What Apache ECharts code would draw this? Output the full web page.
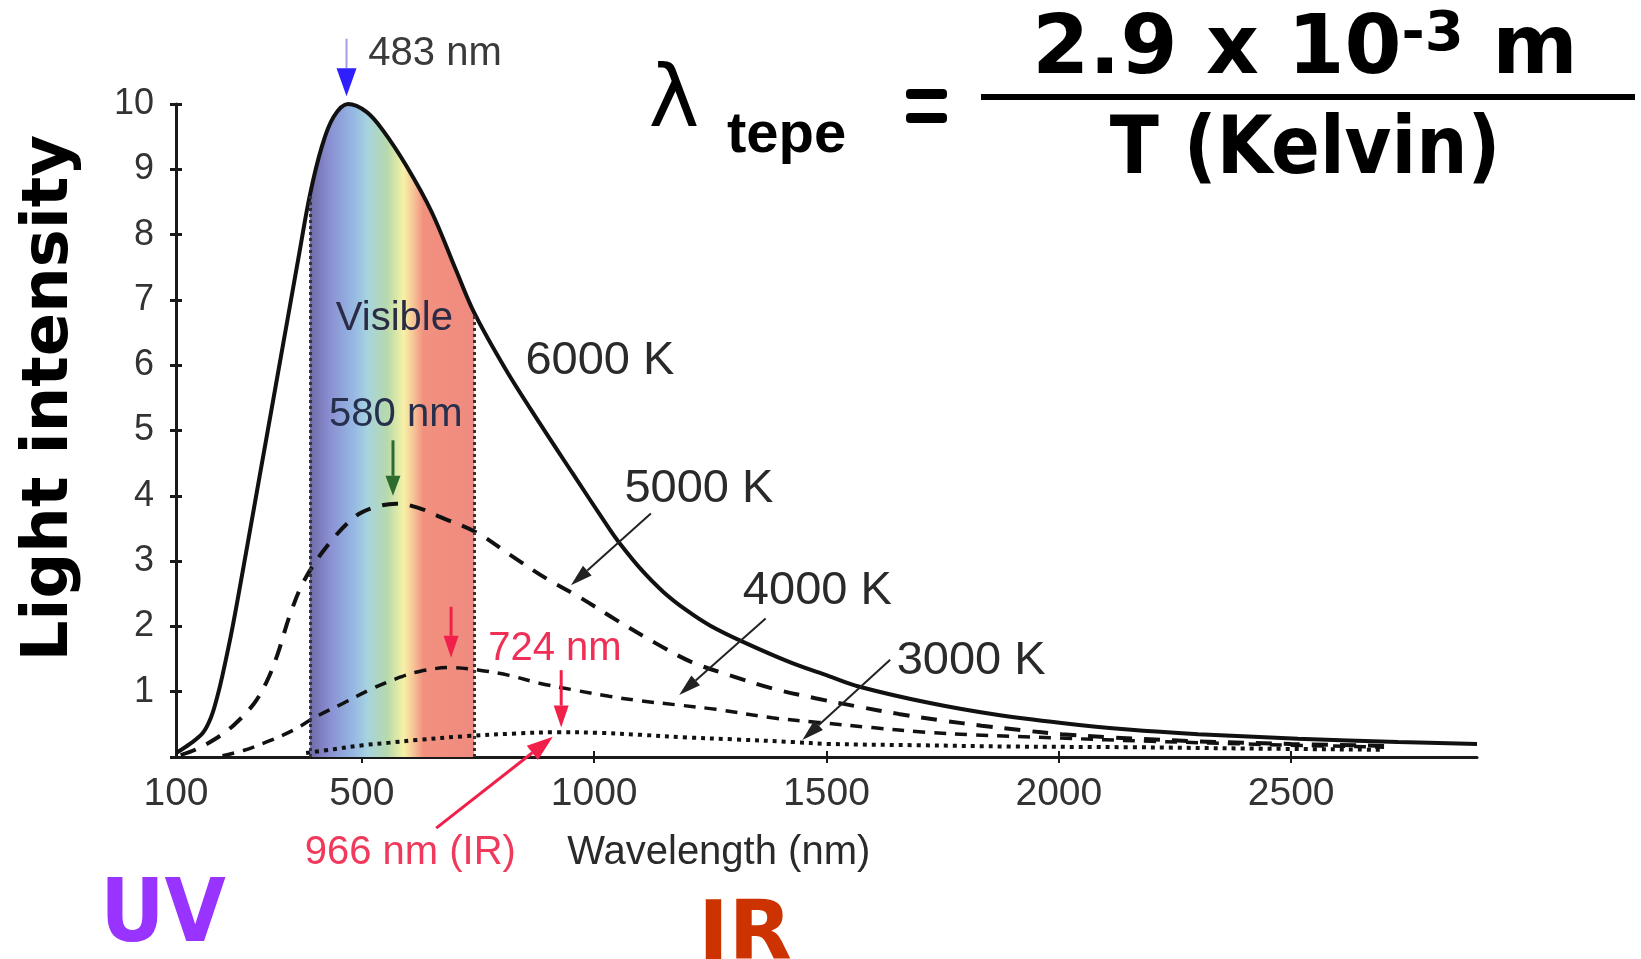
<!DOCTYPE html>
<html>
<head>
<meta charset="utf-8">
<title>Light intensity vs wavelength</title>
<script src="https://cdn.jsdelivr.net/npm/echarts@6.0.0/dist/echarts.min.js"></script>
<style>
html, body { margin: 0; padding: 0; background: #fff; }
#chart { width: 1641px; height: 959px; }
</style>
</head>
<body>
<div id="chart"></div>
<script>
// [wavelength nm, intensity]
var curve6000 = [[100,0.06],[130,0.2],[158,0.37],[175,0.6],[188,0.9],[200,1.25],[222,2.0],[250,3.1],[280,4.3],[310,5.5],[340,6.7],[365,7.7],[388,8.6],[414,9.35],[439,9.8],[470,10],[510,9.88],[545,9.6],[596,9.05],[650,8.35],[703,7.45],[742,6.8],[810,5.93],[882,5.12],[953,4.35],[1032,3.5],[1054,3.28],[1100,2.88],[1150,2.52],[1200,2.24],[1250,2.01],[1318,1.77],[1425,1.44],[1505,1.24],[1569,1.08],[1720,0.83],[1863,0.65],[2006,0.52],[2149,0.42],[2300,0.35],[2515,0.28],[2730,0.23],[2900,0.2]];
var curve5000 = [[110,0.03],[144,0.12],[185,0.28],[223,0.48],[268,0.82],[295,1.15],[318,1.56],[345,2.17],[375,2.69],[424,3.22],[485,3.68],[530,3.83],[574,3.88],[620,3.82],[664,3.69],[749,3.43],[818,3.1],[900,2.72],[968,2.45],[1047,2.1],[1133,1.74],[1211,1.45],[1297,1.24],[1383,1.05],[1476,0.9],[1569,0.77],[1655,0.66],[1748,0.56],[1834,0.48],[1920,0.41],[2006,0.35],[2114,0.3],[2300,0.24],[2500,0.2],[2700,0.17]];
var curve4000 = [[200,0.02],[245,0.1],[295,0.23],[352,0.41],[402,0.62],[459,0.82],[517,1.03],[574,1.2],[624,1.31],[690,1.37],[753,1.33],[817,1.25],[882,1.13],[961,1.02],[1032,0.93],[1100,0.86],[1176,0.8],[1262,0.73],[1383,0.6],[1483,0.53],[1598,0.45],[1713,0.38],[1813,0.34],[2000,0.29],[2200,0.24],[2450,0.19],[2700,0.15]];
var curve3000 = [[380,0.06],[440,0.12],[502,0.18],[560,0.22],[617,0.26],[725,0.32],[832,0.36],[918,0.38],[1011,0.37],[1100,0.34],[1200,0.3],[1300,0.27],[1426,0.23],[1505,0.2],[1700,0.18],[1900,0.16],[2150,0.15],[2400,0.13],[2700,0.11]];

var visibleRange = [388, 742];
var xLabelValues = [100, 500, 1000, 1500, 2000, 2500];
var xTickValues = [500, 1000, 1500, 2000, 2500];

// text labels, placed at [nm, intensity]
var curveLabels = [
  {text: '6000 K', at: [852, 6.06]},
  {text: '5000 K', at: [1065, 4.1]},
  {text: '4000 K', at: [1320, 2.54]},
  {text: '3000 K', at: [1651, 1.47]}
];
var otherLabels = [
  {text: '483 nm', at: [514, 10.77], color: '#3a3a3a', align: 'left'},
  {text: 'Visible', at: [570, 6.71], color: '#2b2b45', align: 'center'},
  {text: '580 nm', at: [573, 5.24], color: '#26304d', align: 'center'},
  {text: '724 nm', at: [772, 1.65], color: '#ef2f55', align: 'left'},
  {text: '966 nm (IR)', at: [377, -1.47], color: '#ef3a5c', align: 'left'},
  {text: 'Wavelength (nm)', at: [942, -1.47], color: '#2a2a2a', align: 'left'}
];
// arrows: tail -> tip
var arrows = [
  {from: [467, 11.0], to: [467, 10.12], line: '#a99be6', head: '#2f1fff', lw: 2, hl: 28, hw: 20},
  {from: [567, 4.85], to: [567, 4.0], line: '#2e6b2e', head: '#2e6b2e', lw: 3, hl: 20, hw: 15},
  {from: [692, 2.3], to: [692, 1.52], line: '#f0204a', head: '#f0204a', lw: 3, hl: 22, hw: 15},
  {from: [929, 1.33], to: [929, 0.45], line: '#f0204a', head: '#f0204a', lw: 3, hl: 22, hw: 15},
  {from: [660, -1.09], to: [911, 0.31], line: '#f0204a', head: '#f0204a', lw: 3, hl: 26, hw: 18},
  {from: [1122, 3.73], to: [950, 2.63], line: '#222', head: '#222', lw: 2, hl: 22, hw: 13},
  {from: [1369, 2.12], to: [1183, 0.95], line: '#222', head: '#222', lw: 2, hl: 22, hw: 13},
  {from: [1637, 1.49], to: [1448, 0.26], line: '#222', head: '#222', lw: 2, hl: 22, hw: 13}
];

var band = curve6000.filter(function (p) {
  return p[0] >= visibleRange[0] && p[0] <= visibleRange[1];
});
function topAt(nm) {
  for (var i = 0; i < curve6000.length; i++) {
    if (curve6000[i][0] === nm) return curve6000[i][1];
  }
  return 0;
}

var labelFont = '"Liberation Sans", Arial, sans-serif';
var comic = '"DejaVu Sans", sans-serif';
var smoothness = 0.35;

var chart = echarts.init(document.getElementById('chart'));
var option = {
  animation: false,
  backgroundColor: '#fff',
  grid: {left: 176, right: 164, top: 104, bottom: 202, containLabel: false},
  xAxis: [{
    type: 'value', min: 100, max: 2900,
    axisLine: {lineStyle: {color: '#1a1a1a', width: 3}},
    axisTick: {show: true, customValues: xTickValues, length: 6, lineStyle: {color: '#1a1a1a', width: 2}},
    axisLabel: {customValues: xLabelValues, margin: 18, color: '#333', fontSize: 39, fontFamily: labelFont,
      formatter: function (v) { return String(v); }},
    splitLine: {show: false}
  }, {
    type: 'value', min: 100, max: 2900, position: 'bottom',
    axisLine: {show: false},
    axisTick: {show: true, inside: true, customValues: xTickValues, length: 6, lineStyle: {color: '#1a1a1a', width: 2}},
    axisLabel: {show: false},
    splitLine: {show: false}
  }],
  yAxis: [{
    type: 'value', min: 0, max: 10, interval: 1,
    axisLine: {show: true, lineStyle: {color: '#1a1a1a', width: 3}},
    axisTick: {show: true, length: 6, lineStyle: {color: '#1a1a1a', width: 3}},
    axisLabel: {margin: 22, color: '#333', fontSize: 36, fontFamily: labelFont,
      formatter: function (v) { return v === 0 ? '' : String(v); }},
    splitLine: {show: false}
  }, {
    type: 'value', min: 0, max: 10, interval: 1, position: 'left',
    axisLine: {show: false},
    axisTick: {show: true, inside: true, length: 6, lineStyle: {color: '#1a1a1a', width: 3}},
    axisLabel: {show: false},
    splitLine: {show: false}
  }],
  series: [{
    name: 'visible', type: 'line', data: band, symbol: 'none', smooth: smoothness, z: 1,
    lineStyle: {width: 0},
    areaStyle: {
      opacity: 1,
      color: new echarts.graphic.LinearGradient(0, 0, 1, 0, [
        {offset: 0, color: '#6f6aa6'},
        {offset: 0.12, color: '#8a8fd2'},
        {offset: 0.26, color: '#95b6e2'},
        {offset: 0.35, color: '#a6d3e0'},
        {offset: 0.47, color: '#b6d9ac'},
        {offset: 0.57, color: '#f6f2a6'},
        {offset: 0.63, color: '#f7c496'},
        {offset: 0.69, color: '#f2917f'},
        {offset: 1, color: '#ef8a80'}
      ])
    },
    markLine: {
      silent: true, symbol: ['none', 'none'], label: {show: false},
      lineStyle: {type: [3, 3], color: '#333', width: 3},
      data: visibleRange.map(function (nm) {
        return [{coord: [nm, 0]}, {coord: [nm, topAt(nm)]}];
      })
    }
  }, {
    name: '6000 K', type: 'line', data: curve6000, symbol: 'none', smooth: smoothness, z: 4,
    lineStyle: {color: '#111', width: 4}
  }, {
    name: '5000 K', type: 'line', data: curve5000, symbol: 'none', smooth: smoothness, z: 3,
    lineStyle: {color: '#111', width: 4, type: [16, 12]}
  }, {
    name: '4000 K', type: 'line', data: curve4000, symbol: 'none', smooth: smoothness, z: 3,
    lineStyle: {color: '#111', width: 3.5, type: [12, 9]}
  }, {
    name: '3000 K', type: 'line', data: curve3000, symbol: 'none', smooth: smoothness, z: 3,
    lineStyle: {color: '#111', width: 4, type: [4, 5]}
  }]
};
chart.setOption(option);

function px(p) { return chart.convertToPixel({gridIndex: 0}, p); }

var els = [];
curveLabels.forEach(function (l) {
  var p = px(l.at);
  els.push({type: 'text', x: p[0], y: p[1], z: 10,
    style: {text: l.text, fill: '#2a2a2a', font: '47px ' + labelFont, align: 'left', verticalAlign: 'middle'}});
});
otherLabels.forEach(function (l) {
  var p = px(l.at);
  els.push({type: 'text', x: p[0], y: p[1], z: 10,
    style: {text: l.text, fill: l.color, font: '40px ' + labelFont, align: l.align, verticalAlign: 'middle'}});
});
arrows.forEach(function (a) {
  var t = px(a.from), h = px(a.to);
  var dx = h[0] - t[0], dy = h[1] - t[1];
  var len = Math.sqrt(dx * dx + dy * dy);
  var ux = dx / len, uy = dy / len;
  var bx = h[0] - ux * a.hl, by = h[1] - uy * a.hl;
  var nx = -uy * a.hw / 2, ny = ux * a.hw / 2;
  els.push({type: 'line', z: 11, shape: {x1: t[0], y1: t[1], x2: bx, y2: by},
    style: {stroke: a.line, lineWidth: a.lw}});
  els.push({type: 'polygon', z: 11, shape: {points: [[h[0], h[1]], [bx + nx, by + ny], [bx - nx, by - ny]]},
    style: {fill: a.head}});
});

// axis title, formula, UV / IR
els.push({type: 'text', x: 50, y: 398, rotation: Math.PI / 2, z: 10,
  style: {text: 'Light intensity', fill: '#000', font: 'bold 64px ' + comic, align: 'center', verticalAlign: 'middle'}});
els.push({type: 'text', x: 674, y: 104, z: 10,
  style: {text: 'λ', fill: '#000', font: '86px ' + comic, align: 'center', verticalAlign: 'middle'}});
els.push({type: 'text', x: 727, y: 136, z: 10,
  style: {text: 'tepe', fill: '#000', font: 'bold 58px ' + labelFont, align: 'left', verticalAlign: 'middle'}});
// the "=" sign as two thick bars
els.push({type: 'rect', z: 10, shape: {x: 906, y: 89, width: 41, height: 10, r: 4}, style: {fill: '#000'}});
els.push({type: 'rect', z: 10, shape: {x: 906, y: 113, width: 41, height: 10, r: 4}, style: {fill: '#000'}});
els.push({type: 'rect', z: 10, shape: {x: 981, y: 94, width: 654, height: 6}, style: {fill: '#000'}});
els.push({type: 'text', x: 1305, y: 52, z: 10,
  style: {
    text: '{a|2.9 x 10}{s|-3}{a| m}', align: 'center', verticalAlign: 'middle',
    rich: {
      a: {fill: '#000', fontSize: 82, fontWeight: 'bold', fontFamily: comic, lineHeight: 90},
      s: {fill: '#000', fontSize: 56, fontWeight: 'bold', fontFamily: comic, lineHeight: 28, verticalAlign: 'top'}
    }
  }});
els.push({type: 'text', x: 1305, y: 152, z: 10,
  style: {text: 'T (Kelvin)', fill: '#000', font: 'bold 80px "DejaVu Sans Condensed", ' + comic, align: 'center', verticalAlign: 'middle'}});
els.push({type: 'text', x: 163, y: 918, z: 10,
  style: {text: 'UV', fill: '#9933ff', font: 'bold 88px "DejaVu Sans Condensed", ' + comic, align: 'center', verticalAlign: 'middle'}});
els.push({type: 'text', x: 745, y: 938, z: 10,
  style: {text: 'IR', fill: '#cc3300', font: 'bold 82px ' + comic, align: 'center', verticalAlign: 'middle'}});

chart.setOption({graphic: els});
</script>
</body>
</html>
